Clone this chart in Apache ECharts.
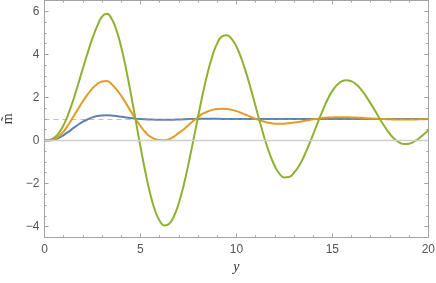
<!DOCTYPE html>
<html>
<head>
<meta charset="utf-8">
<script src="https://cdn.jsdelivr.net/npm/echarts@6/dist/echarts.min.js"></script>
<style>html,body{margin:0;padding:0;background:#fff;}#c{width:436px;height:283px;}</style>
</head>
<body>
<div id="c"></div>
<script>
// sample positions along the horizontal axis (step 0.25)
var xs = [0,0.25,0.5,0.75,1,1.25,1.5,1.75,2,2.25,2.5,2.75,3,3.25,3.5,3.75,4,4.25,4.5,4.75,5,5.25,5.5,5.75,6,6.25,6.5,6.75,7,7.25,7.5,7.75,8,8.25,8.5,8.75,9,9.25,9.5,9.75,10,10.25,10.5,10.75,11,11.25,11.5,11.75,12,12.25,12.5,12.75,13,13.25,13.5,13.75,14,14.25,14.5,14.75,15,15.25,15.5,15.75,16,16.25,16.5,16.75,17,17.25,17.5,17.75,18,18.25,18.5,18.75,19,19.25,19.5,19.75,20];
// values
var blueVals = [0,0.005,0.04,0.12,0.25,0.4,0.57,0.73,0.87,0.98,1.07,1.13,1.16,1.17,1.16,1.13,1.1,1.07,1.04,1.01,0.99,0.98,0.97,0.965,0.96,0.96,0.96,0.965,0.97,0.98,0.99,0.995,1.0,1.005,1.01,1.01,1.005,1.0,1.0,1.0,1.0,1.0,1.0,1.0,1.0,1.0,1.0,1.0,1.0,1.0,1.0,1.0,1.0,1.0,1.0,1.0,1.0,1.0,1.0,1.0,1.0,1.0,1.0,1.0,1.0,1.0,1.0,1.0,1.0,1.0,1.0,1.0,1.0,1.0,1.0,1.0,1.0,1.0,1.0,1.0,1.0];
var orangeVals = [0,0.01,0.06,0.2,0.42,0.74,1.1,1.46,1.82,2.14,2.42,2.62,2.74,2.76,2.61,2.37,2.07,1.72,1.35,0.99,0.67,0.39,0.18,0.07,0.02,0.01,0.06,0.18,0.35,0.51,0.71,0.9,1.08,1.24,1.34,1.42,1.46,1.47,1.46,1.42,1.36,1.28,1.19,1.09,1.0,0.92,0.86,0.81,0.78,0.775,0.78,0.8,0.83,0.86,0.9,0.94,0.98,1.01,1.04,1.06,1.07,1.08,1.08,1.075,1.07,1.06,1.05,1.035,1.02,1.01,1.0,0.99,0.98,0.975,0.97,0.97,0.97,0.975,0.98,0.985,0.99];
var greenVals = [0,0.02,0.12,0.35,0.72,1.25,1.88,2.6,3.35,4.07,4.75,5.32,5.75,5.88,5.65,5.12,4.33,3.32,2.17,0.94,-0.29,-1.44,-2.44,-3.23,-3.73,-3.95,-3.87,-3.51,-2.91,-2.09,-1.1,-0.02,1.09,2.17,3.13,3.93,4.51,4.83,4.88,4.72,4.36,3.83,3.16,2.4,1.585,0.77,0.0,-0.66,-1.19,-1.55,-1.72,-1.7,-1.5,-1.2,-0.78,-0.27,0.28,0.85,1.4,1.9,2.3,2.58,2.75,2.8,2.74,2.6,2.36,2.06,1.71,1.34,0.96,0.61,0.3,0.06,-0.1,-0.17,-0.15,-0.06,0.09,0.27,0.48];
var yMajorTicks = [-4,-2,0,2,4,6];
var yMinorTicks = [-4.5,-4,-3.5,-3,-2.5,-2,-1.5,-1,-0.5,0,0.5,1,1.5,2,2.5,3,3.5,4,4.5,5,5.5,6,6.5];
var refLevel = 1;
var zeroLevel = 0;

function pairs(v){ return xs.map(function(x,i){ return [x, v[i]]; }); }

var frameColor = '#a3a3a3';
var labelStyle = {color:'#555', fontFamily:'Liberation Sans', fontSize:12};

function yAxis(pos, major, labels){
  return {
    type:'value', min:-4.5, max:6.5, interval:0.5, position:pos,
    axisLine:{show:major, onZero:false, lineStyle:{color:frameColor, width:1}},
    axisTick:{show:true, inside:true, length: major?4:2, customValues: major?yMajorTicks:yMinorTicks, lineStyle:{color:frameColor}},
    axisLabel:{show:labels, customValues:yMajorTicks, margin:5, formatter:function(v){return v<0?'\u2212'+(-v):String(v);}, color:labelStyle.color, fontFamily:labelStyle.fontFamily, fontSize:labelStyle.fontSize},
    splitLine:{show:false}
  };
}
function xAxis(pos, labels){
  return {
    type:'value', min:0, max:20, interval:5, position:pos,
    axisLine:{show:true, onZero:false, lineStyle:{color:frameColor, width:1}},
    axisTick:{show:true, inside:true, length:4, lineStyle:{color:frameColor}},
    minorTick:{show:true, splitNumber:5, length:2, lineStyle:{color:frameColor}},
    axisLabel:{show:labels, margin:6, color:labelStyle.color, fontFamily:labelStyle.fontFamily, fontSize:labelStyle.fontSize},
    splitLine:{show:false}
  };
}

var xa0 = xAxis('bottom', true);
xa0.name = 'y'; xa0.nameLocation='middle'; xa0.nameGap=21;
xa0.nameTextStyle = {fontFamily:'Liberation Serif', fontStyle:'italic', fontSize:14, color:'#333'};
var ya0 = yAxis('left', true, true);
ya0.name = 'm\u0303'; ya0.nameLocation='middle'; ya0.nameGap=27; ya0.nameRotate=90;
ya0.nameTextStyle = {fontFamily:'Liberation Serif', fontSize:14, color:'#333'};

var chart = echarts.init(document.getElementById('c'), null, {renderer:'canvas'});
chart.setOption({
  animation:false,
  backgroundColor:'#fff',
  grid:{left:44.5, right:7.7, top:0.5, bottom:45.7, containLabel:false, outerBoundsMode:'none'},
  xAxis:[xa0, xAxis('top', false)],
  yAxis:[ya0, yAxis('left', false, false), yAxis('right', true, false), yAxis('right', false, false)],
  series:[
    {type:'line', data:[], z:1, silent:true,
     markLine:{silent:true, symbol:'none', label:{show:false}, lineStyle:{color:'#cfcfcf', width:1.3, type:'solid'}, data:[{yAxis:zeroLevel}]}},
    {name:'b', type:'line', data:pairs(blueVals), smooth:true, showSymbol:false, z:2, lineStyle:{color:'#5e81b5', width:2}},
    {name:'o', type:'line', data:pairs(orangeVals), smooth:true, showSymbol:false, z:2, lineStyle:{color:'#e19c24', width:2}},
    {name:'g', type:'line', data:pairs(greenVals), smooth:true, showSymbol:false, z:2, lineStyle:{color:'#8fb131', width:2}},
    {type:'line', data:[], z:5, silent:true,
     markLine:{silent:true, symbol:'none', label:{show:false}, lineStyle:{color:'rgba(240,110,110,0.6)', width:1, type:[5,4]}, data:[{yAxis:refLevel}]}}
  ]
});
</script>
</body>
</html>
